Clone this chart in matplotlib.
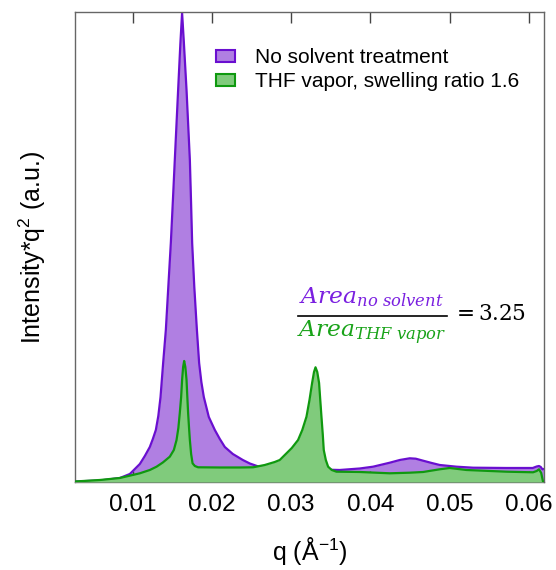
import matplotlib
matplotlib.use("Agg")
import matplotlib.pyplot as plt
from matplotlib.patches import Patch
from matplotlib.lines import Line2D

plt.rcParams['font.family'] = ['Liberation Sans', 'DejaVu Sans']
plt.rcParams['mathtext.fontset'] = 'custom'
plt.rcParams['mathtext.rm'] = 'Liberation Sans'
plt.rcParams['mathtext.it'] = 'Liberation Sans:italic'
plt.rcParams['mathtext.bf'] = 'Liberation Sans:bold'

# ---- data (arbitrary intensity units) ----
q_none = [0.00272, 0.00588, 0.00840, 0.00966, 0.01092, 0.01155, 0.01218, 0.01256,
          0.01294, 0.01325, 0.01353, 0.01386, 0.01420, 0.01451, 0.01483, 0.01508,
          0.01533, 0.01575, 0.01603, 0.01625, 0.01647, 0.01681, 0.01723, 0.01738,
          0.01752, 0.01779, 0.01811, 0.01840, 0.01868, 0.01899, 0.01962, 0.02038,
          0.02101, 0.02164, 0.02265, 0.02391, 0.02479, 0.02605, 0.03110, 0.03614,
          0.03866, 0.04034, 0.04245, 0.04371, 0.04497, 0.04572, 0.04665, 0.04774,
          0.04875, 0.05086, 0.05295, 0.05716, 0.06048, 0.06098, 0.06127, 0.06149,
          0.06170, 0.06187]
i_none = [0.5, 1.5, 4, 8, 18, 26, 35, 43,
          52, 66, 85, 119, 152, 195, 239, 280,
          322, 392, 438, 469, 440, 392, 322, 280,
          239, 195, 153, 119, 100, 85, 65, 52,
          43, 35, 28, 22, 18.5, 15, 13, 12,
          13.5, 15.3, 19.3, 22, 23.7, 23.3, 21.3, 19,
          17, 15.3, 14.3, 14, 14, 15.5, 16, 15,
          12.7, 13]

q_thf = [0.00272, 0.00588, 0.00840, 0.01092, 0.01218, 0.01303, 0.01382, 0.01470,
         0.01521, 0.01555, 0.01578, 0.01596, 0.01613, 0.01625, 0.01638, 0.01651,
         0.01666, 0.01681, 0.01691, 0.01701, 0.01712, 0.01723, 0.01739, 0.01757,
         0.01786, 0.01827, 0.02101, 0.02353, 0.02521, 0.02668, 0.02794, 0.02857,
         0.02942, 0.03009, 0.03088, 0.03141, 0.03194, 0.03232, 0.03265, 0.03289,
         0.03308, 0.03330, 0.03353, 0.03368, 0.03383, 0.03400, 0.03412, 0.03438,
         0.03467, 0.03513, 0.03572, 0.03866, 0.04245, 0.04497, 0.04665, 0.04875,
         0.05001, 0.05212, 0.05716, 0.06052, 0.06098, 0.06127, 0.06155, 0.06178]
i_thf = [0.5, 2, 4, 8.7, 12, 15.3, 19.5, 25.3,
         32, 42, 54, 69, 85, 102, 115, 121,
         115, 102, 85, 69, 55, 42, 28, 18.7,
         16, 14.7, 14.5, 14.5, 14.7, 17, 20, 22,
         28.7, 34, 42, 52, 65.3, 82, 99, 110,
         114.7, 110, 99, 82, 65.3, 47, 32, 22,
         15.3, 12, 10.3, 10, 8.7, 9.3, 10, 12.7,
         14, 12, 10.3, 9.7, 11, 12.7, 9, 0.3]

labels = ['No solvent treatment', 'THF vapor, swelling ratio 1.6']
xticks = [0.01, 0.02, 0.03, 0.04, 0.05, 0.06]

purple_line = '#6a0fd0'
purple_fill = '#b07fe2'
green_line = '#0f990f'
green_fill = '#80cb7c'

fig = plt.figure(figsize=(5.56, 5.70), dpi=100)
ax = fig.add_axes([0.1343, 0.1544, 0.8441, 0.8246])

ax.fill_between(q_none, 0, i_none, color=purple_fill, lw=0, zorder=1)
ax.plot(q_none, i_none, color=purple_line, lw=1.6, zorder=2)
ax.fill_between(q_thf, 0, i_thf, color=green_fill, lw=0, zorder=3)
ax.plot(q_thf, i_thf, color=green_line, lw=1.6, zorder=4)

ax.set_xlim(0.0027, 0.0619)
ax.set_ylim(0, 470)
ax.set_xticks(xticks)
ax.set_xticklabels(['%.2f' % t for t in xticks])
ax.set_yticks([])
ax.tick_params(axis='x', which='major', direction='in', top=True, bottom=True,
               length=8, width=1, color='#444444', labelsize=17.5, pad=9)
for s in ax.spines.values():
    s.set_color('#666666')
    s.set_linewidth(1.0)

ax.set_xlabel('q (Å$^{-1}$)', fontsize=18, labelpad=13)
ax.set_ylabel('Intensity*q$^2$ (a.u.)', fontsize=18, labelpad=19)

handles = [Patch(facecolor=purple_fill, edgecolor=purple_line, lw=1.5),
           Patch(facecolor=green_fill, edgecolor=green_line, lw=1.5)]
ax.legend(handles, labels, loc='upper left', bbox_to_anchor=(0.302, 0.923),
          frameon=False, fontsize=15, handlelength=0.9, handleheight=0.5,
          handletextpad=0.95, labelspacing=0.25, borderpad=0, borderaxespad=0)

# ratio annotation
ax.text(0.632, 0.393, r'$Area_{no\ solvent}$', transform=ax.transAxes,
        ha='center', va='center', fontsize=16.8, color='#7a1fe0',
        math_fontfamily='dejavuserif')
ax.text(0.632, 0.318, r'$Area_{THF\ vapor}$', transform=ax.transAxes,
        ha='center', va='center', fontsize=16.8, color='#19a319',
        math_fontfamily='dejavuserif')
ax.add_line(Line2D([0.476, 0.793], [0.353, 0.353], transform=ax.transAxes,
                   color='black', lw=1.2))
ax.text(0.805, 0.356, r'$=3.25$', transform=ax.transAxes,
        ha='left', va='center', fontsize=15.5, color='black',
        math_fontfamily='dejavuserif')

fig.savefig('out.png', dpi=100)
